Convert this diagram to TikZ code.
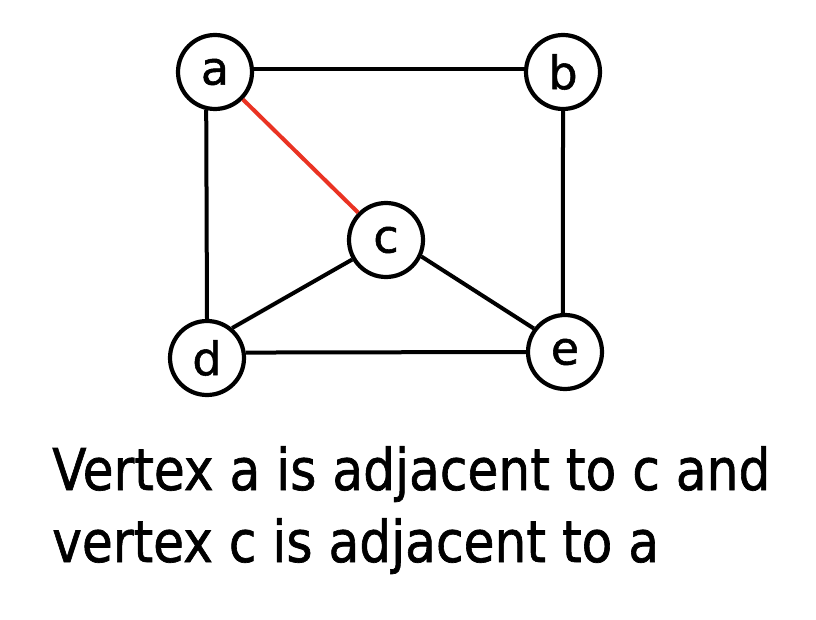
\documentclass[tikz,border=0pt]{standalone}
\usepackage{fontspec}
\setmainfont{DejaVu Sans}
\newfontfamily\heavyfont[FakeBold=1.2]{DejaVu Sans}
\definecolor{edgered}{RGB}{234,51,35}
\begin{document}
\begin{tikzpicture}[x=1pt,y=-1pt,
  vertex/.style={circle,draw=black,line width=4.2pt,minimum size=74pt,inner sep=0pt,
    font=\heavyfont\fontsize{46}{50}\selectfont},
  edge/.style={line width=4pt,black},
  redge/.style={line width=4pt,edgered},
  caption/.style={anchor=base west,inner sep=0pt,font=\heavyfont\fontsize{57.6}{66}\selectfont}]
\useasboundingbox[fill=white] (0,0) rectangle (816,620);
\node[vertex] (a) at (215,72) {a};
\node[vertex] (b) at (563,72) {b};
\node[vertex] (c) at (386,240) {c};
\node[vertex] (d) at (207,358) {d};
\node[vertex] (e) at (565,352) {e};
\draw[edge] (a.5) -- (b.175);
\draw[edge] (a.257) -- (d.north);
\draw[edge] (b.south) -- (e.93);
\draw[redge] (a) -- (c);
\draw[edge] (c.210) -- (d.50);
\draw[edge] (c.335) -- (e.143);
\draw[edge] (d.8) -- (e.west);
\node[caption] (t1) at (52,490) {\scalebox{0.872}[1]{Vertex a is adjacent to c and}};
\node[caption] (t2) at (52,562) {\scalebox{0.872}[1]{vertex c is adjacent to a}};
\end{tikzpicture}
\end{document}
